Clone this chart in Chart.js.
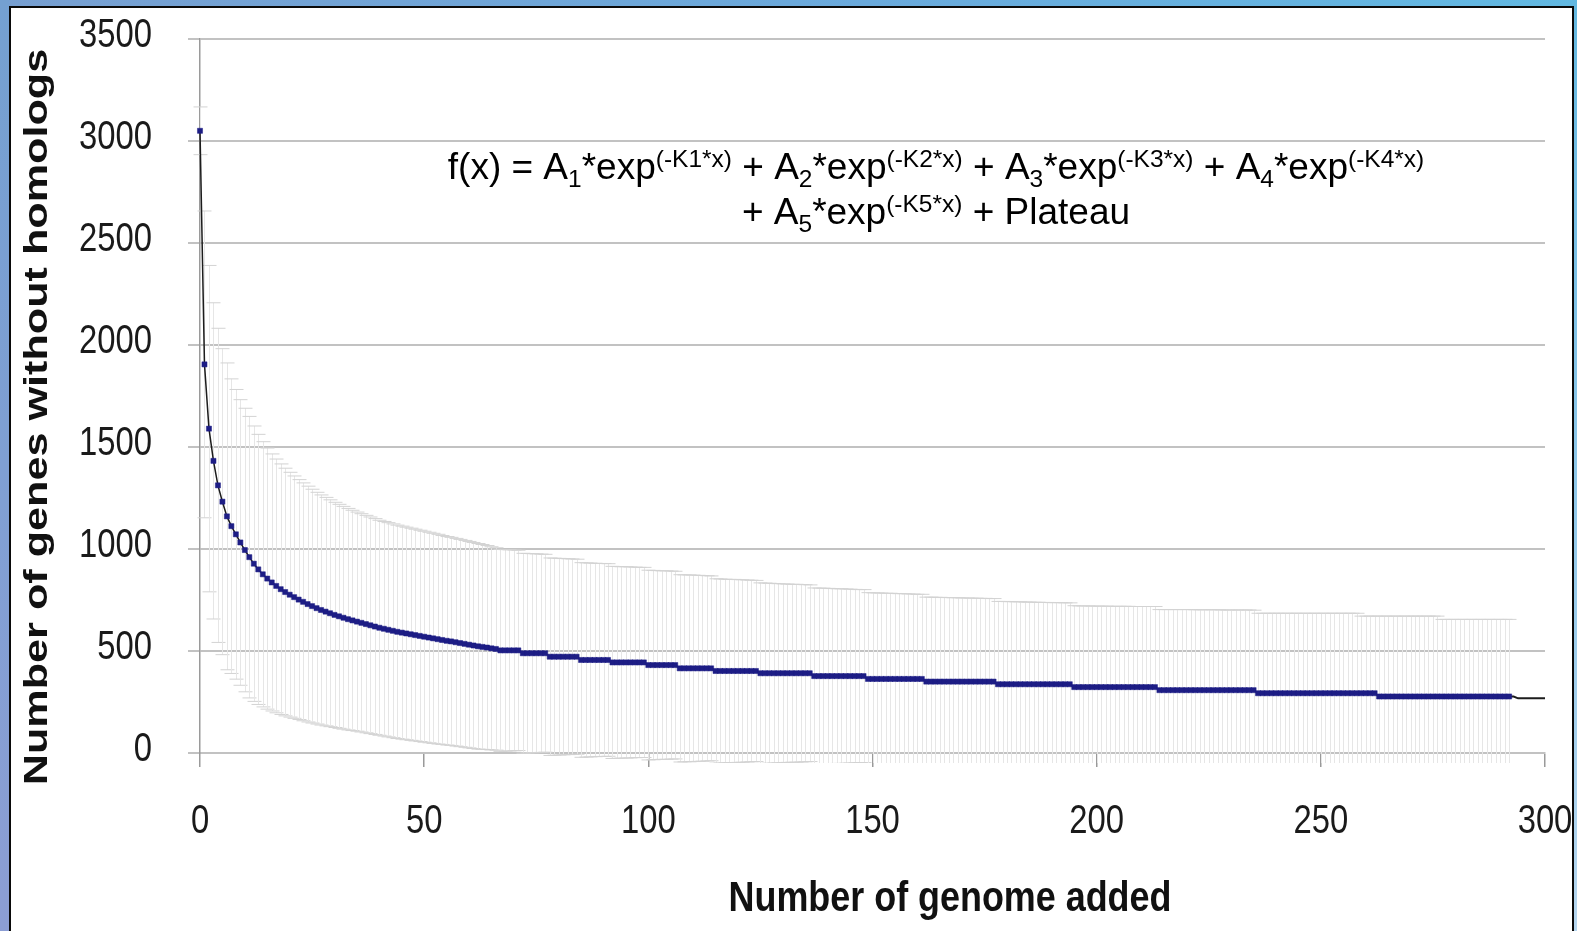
<!DOCTYPE html>
<html>
<head>
<meta charset="utf-8">
<title>Genes without homologs</title>
<script src="https://cdn.jsdelivr.net/npm/chart.js@4.4.1/dist/chart.umd.min.js"></script>
<style>
  html, body { margin: 0; padding: 0; }
  body {
    width: 1577px; height: 931px; overflow: hidden; position: relative;
    background: linear-gradient(90deg, #779fd1 0%, #6aaadc 55%, #62b9e2 100%);
  }
  #edgeLeft { position: absolute; left: 0; top: 0; width: 9px; height: 931px;
    background: linear-gradient(180deg, #74a0d1 0%, #7f9fd3 50%, #8c9ed4 100%); }
  #edgeRight { position: absolute; left: 1574px; top: 0; width: 3px; height: 931px;
    background: linear-gradient(180deg, #63b8e1 0%, #8ec8ea 50%, #b6d6ef 100%); }
  #panel { position: absolute; left: 9px; top: 6px; width: 1565px; height: 960px;
    box-sizing: border-box; border: 2px solid #0a0a0a; background: #fff; }
  #chart { position: absolute; left: 0; top: 0; }
</style>
</head>
<body>
<div id="edgeLeft"></div>
<div id="edgeRight"></div>
<div id="panel"></div>
<canvas id="chart" width="1577" height="931"></canvas>
<script>
// mean number of genes without homologs, one value per genome added (0..292)
const meanGenes = [
  3050, 1905, 1590, 1432, 1312, 1232, 1160, 1112, 1072, 1032,
  995, 960, 928, 900, 876, 855, 836, 819, 803, 789,
  776, 764, 752, 741, 730, 720, 710, 701, 693, 685,
  677, 670, 663, 656, 650, 644, 638, 632, 626, 620,
  614, 609, 604, 599, 594, 590, 586, 582, 578, 574,
  570, 566, 562, 558, 554, 550, 547, 543, 539, 535,
  531, 527, 523, 520, 517, 513, 510, 503, 503, 503,
  503, 503, 489, 489, 489, 489, 489, 489, 472, 472,
  472, 472, 472, 472, 472, 456, 456, 456, 456, 456,
  456, 456, 444, 444, 444, 444, 444, 444, 444, 444,
  431, 431, 431, 431, 431, 431, 431, 415, 415, 415,
  415, 415, 415, 415, 415, 402, 402, 402, 402, 402,
  402, 402, 402, 402, 402, 391, 391, 391, 391, 391,
  391, 391, 391, 391, 391, 391, 391, 377, 377, 377,
  377, 377, 377, 377, 377, 377, 377, 377, 377, 363,
  363, 363, 363, 363, 363, 363, 363, 363, 363, 363,
  363, 363, 350, 350, 350, 350, 350, 350, 350, 350,
  350, 350, 350, 350, 350, 350, 350, 350, 337, 337,
  337, 337, 337, 337, 337, 337, 337, 337, 337, 337,
  337, 337, 337, 337, 337, 323, 323, 323, 323, 323,
  323, 323, 323, 323, 323, 323, 323, 323, 323, 323,
  323, 323, 323, 323, 308, 308, 308, 308, 308, 308,
  308, 308, 308, 308, 308, 308, 308, 308, 308, 308,
  308, 308, 308, 308, 308, 308, 293, 293, 293, 293,
  293, 293, 293, 293, 293, 293, 293, 293, 293, 293,
  293, 293, 293, 293, 293, 293, 293, 293, 293, 293,
  293, 293, 293, 277, 277, 277, 277, 277, 277, 277,
  277, 277, 277, 277, 277, 277, 277, 277, 277, 277,
  277, 277, 277, 277, 277, 277, 277, 277, 277, 277,
  277, 277, 277
];

// standard deviation of each mean (error bars)
const sdGenes = [
  117, 752, 800, 775, 770, 750, 752, 722, 710, 700,
  695, 690, 675, 662, 650, 640, 630, 622, 614, 607,
  600, 594, 588, 583, 578, 573, 568, 564, 560, 556,
  552, 549, 546, 543, 540, 537, 535, 533, 531, 529,
  527, 526, 525, 524, 523, 522, 521, 520, 519, 518,
  517, 516, 515, 514, 512, 511, 510, 509, 508, 507,
  506, 505, 504, 502, 500, 498, 496, 495, 494, 493,
  492, 491, 490, 489, 488, 487, 486, 485, 484, 483,
  482, 481, 480, 479, 478, 477, 476, 475, 474, 473,
  473, 472, 471, 470, 469, 469, 468, 467, 466, 466,
  465, 464, 463, 462, 462, 461, 460, 459, 458, 458,
  457, 456, 455, 454, 453, 452, 451, 450, 449, 449,
  448, 447, 446, 445, 444, 443, 442, 441, 440, 439,
  438, 437, 436, 436, 435, 434, 433, 432, 431, 431,
  430, 429, 428, 428, 427, 426, 425, 424, 424, 423,
  422, 422, 421, 420, 420, 419, 418, 418, 417, 416,
  415, 415, 414, 414, 413, 413, 412, 412, 411, 411,
  410, 410, 409, 409, 408, 408, 407, 407, 406, 406,
  405, 405, 404, 404, 403, 403, 402, 402, 401, 401,
  400, 400, 400, 399, 399, 399, 398, 398, 398, 397,
  397, 397, 397, 396, 396, 396, 396, 396, 395, 395,
  395, 395, 395, 395, 395, 395, 395, 395, 395, 395,
  395, 395, 394, 394, 394, 394, 394, 394, 393, 393,
  393, 393, 393, 393, 393, 392, 392, 392, 392, 392,
  392, 392, 392, 392, 392, 392, 392, 392, 392, 392,
  392, 392, 392, 392, 392, 392, 392, 392, 392, 378,
  378, 378, 378, 394, 394, 394, 394, 394, 394, 394,
  394, 394, 394, 394, 394, 394, 394, 378, 378, 378,
  378, 378, 378, 378, 378, 378, 378, 378, 378, 378,
  378, 378, 378
];

// fitted curve past the last measured point
const fitTailX = [292, 293, 294, 300];
const fitTailY = [277, 277, 268, 268];

const xTickValues = [0, 50, 100, 150, 200, 250, 300];
const yTickValues = [0, 500, 1000, 1500, 2000, 2500, 3000, 3500];

const xTitle = 'Number of genome added';
const yTitle = 'Number of genes without homologs';

// model formula, pieces tagged 0 = normal, -1 = subscript, 1 = superscript
const formulaLines = [
  [['f(x) = A', 0], ['1', -1], ['*exp', 0], ['(-K1*x)', 1],
   [' + A', 0], ['2', -1], ['*exp', 0], ['(-K2*x)', 1],
   [' + A', 0], ['3', -1], ['*exp', 0], ['(-K3*x)', 1],
   [' + A', 0], ['4', -1], ['*exp', 0], ['(-K4*x)', 1]],
  [['+ A', 0], ['5', -1], ['*exp', 0], ['(-K5*x)', 1], [' + Plateau', 0]]
];

const sans = '"Liberation Sans", Arial, sans-serif';

// vertical error bars with caps, drawn behind the series
const errorBars = {
  id: 'errorBars',
  beforeDatasetsDraw(chart) {
    const { ctx, chartArea: a, scales: { x, y } } = chart;
    ctx.save();
    ctx.beginPath();
    ctx.rect(a.left - 12, a.top, a.right - a.left + 24, a.bottom - a.top + 10);
    ctx.clip();
    ctx.lineWidth = 1;
    meanGenes.forEach((m, i) => {
      const px = Math.round(x.getPixelForValue(i)) + 0.5;
      const hi = y.getPixelForValue(m + sdGenes[i]);
      const lo = y.getPixelForValue(m - sdGenes[i]);
      ctx.strokeStyle = '#e6e6e6';
      ctx.beginPath();
      ctx.moveTo(px, hi);
      ctx.lineTo(px, lo);
      ctx.stroke();
      ctx.strokeStyle = '#d3d3d3';
      ctx.beginPath();
      ctx.moveTo(px - 7, hi); ctx.lineTo(px + 7, hi);
      ctx.moveTo(px - 7, lo); ctx.lineTo(px + 7, lo);
      ctx.stroke();
    });
    ctx.restore();
  }
};

// text squeezed or widened along its own direction (the originals use condensed faces)
function stretchedText(ctx, text, x, y, font, sx, angle, align) {
  ctx.save();
  ctx.translate(x, y);
  ctx.rotate(angle);
  ctx.scale(sx, 1);
  ctx.font = font;
  ctx.textAlign = align || 'center';
  ctx.fillText(text, 0, 0);
  ctx.restore();
}

function drawFormulaLine(ctx, parts, cx, baseY) {
  const big = '37px ' + sans, small = '24.5px ' + sans;
  let width = 0;
  parts.forEach(([t, k]) => { ctx.font = k ? small : big; width += ctx.measureText(t).width; });
  let x = cx - width / 2;
  ctx.textAlign = 'left';
  ctx.textBaseline = 'alphabetic';
  parts.forEach(([t, k]) => {
    ctx.font = k ? small : big;
    const dy = k === 1 ? -12 : k === -1 ? 8 : 0;
    ctx.fillText(t, x, baseY + dy);
    x += ctx.measureText(t).width;
  });
}

const textLayer = {
  id: 'textLayer',
  afterDraw(chart) {
    const { ctx, chartArea: a, scales: { x, y } } = chart;
    const tickFont = '40px ' + sans;
    ctx.save();
    ctx.fillStyle = '#1a1a1a';
    ctx.textBaseline = 'middle';
    yTickValues.forEach((v) => {
      stretchedText(ctx, String(v), a.left - 48, y.getPixelForValue(v) - 3, tickFont, 0.82, 0, 'right');
    });
    xTickValues.forEach((v) => {
      stretchedText(ctx, String(v), x.getPixelForValue(v), a.bottom + 69, tickFont, 0.82, 0, 'center');
    });
    ctx.textBaseline = 'alphabetic';
    ctx.fillStyle = '#111';
    stretchedText(ctx, yTitle, 47, 417, 'bold 34px ' + sans, 1.27, -Math.PI / 2);
    stretchedText(ctx, xTitle, 950, 911, 'bold 42px ' + sans, 0.855, 0);
    ctx.fillStyle = '#000';
    drawFormulaLine(ctx, formulaLines[0], 936, 179);
    drawFormulaLine(ctx, formulaLines[1], 936, 224);
    ctx.restore();
  }
};

new Chart(document.getElementById('chart'), {
  type: 'line',
  data: {
    datasets: [
      {
        data: meanGenes.map((v, i) => ({ x: i, y: v })),
        borderColor: '#1c1c1c',
        borderWidth: 1.5,
        pointStyle: 'rect',
        pointRadius: 3.6,
        pointBackgroundColor: '#1d1d85',
        pointBorderColor: '#1d1d85',
        pointBorderWidth: 0.5,
        tension: 0,
        clip: 8,
      },
      {
        data: fitTailX.map((v, i) => ({ x: v, y: fitTailY[i] })),
        borderColor: '#1c1c1c',
        borderWidth: 2,
        pointRadius: 0,
        tension: 0,
        clip: 8,
      },
    ],
  },
  options: {
    responsive: false,
    animation: false,
    devicePixelRatio: 1,
    layout: { padding: { top: 39, right: 32, left: 0, bottom: 0 } },
    plugins: { legend: { display: false }, tooltip: { enabled: false } },
    scales: {
      x: {
        type: 'linear',
        min: 0,
        max: 300,
        afterBuildTicks: (s) => { s.ticks = xTickValues.map((v) => ({ value: v })); },
        afterFit: (s) => { s.height = 178; },
        grid: { drawOnChartArea: false, color: '#9a9a9a', lineWidth: 1.5, tickLength: 14 },
        border: { color: '#c2c2c2', width: 2 },
        ticks: { display: false },
      },
      y: {
        min: 0,
        max: 3500,
        afterBuildTicks: (s) => { s.ticks = yTickValues.map((v) => ({ value: v })); },
        afterFit: (s) => { s.width = 200; },
        grid: { color: '#c2c2c2', lineWidth: 2, tickLength: 12 },
        border: { color: '#9a9a9a', width: 1.5 },
        ticks: { display: false },
      },
    },
  },
  plugins: [errorBars, textLayer],
});
</script>
</body>
</html>
